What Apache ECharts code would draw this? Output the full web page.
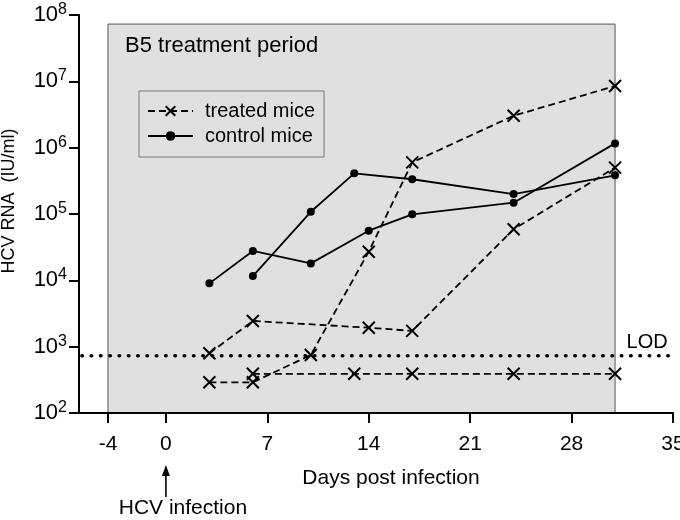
<!DOCTYPE html>
<html><head><meta charset="utf-8">
<script src="https://cdn.jsdelivr.net/npm/echarts@6/dist/echarts.min.js"></script>
<style>html,body{margin:0;padding:0;background:#fff}#c{width:680px;height:520px}</style>
</head><body><div id="c"></div>
<script>
// ---- data ----
const xTicks = [-4, 0, 7, 14, 21, 28, 35];
const treatedA_days = [3, 6, 14, 17, 24, 31];
const treatedA_vals = [795, 2440, 1930, 1730, 59000, 500000];
const treatedB_days = [3, 6, 10, 14, 17, 24, 31];
const treatedB_vals = [290, 290, 748, 27000, 600000, 3030000, 8500000];
const treatedC_days = [6, 13, 17, 24, 31];
const treatedC_vals = [390, 390, 390, 390, 390];
const controlA_days = [3, 6, 10, 14, 17, 24, 31];
const controlA_vals = [9000, 27700, 18000, 56000, 99000, 148000, 1160000];
const controlB_days = [6, 10, 13, 17, 24, 31];
const controlB_vals = [11600, 108000, 410000, 334000, 200000, 383000];
const lodValue = 730;
const lodDays = [-5.8, 34.8];
const treatmentDays = [-4, 31];
const treatmentTop = 7.3e7;
const infectionDay = 0;

const FONT = "'Liberation Sans', Arial, Helvetica, sans-serif";
const pairs = (d, v) => d.map((x, i) => [x, v[i]]);
const crossPath = 'path://M0,0L10,10M10,0L0,10';

const treatedStyle = {
  type: 'line', name: 'treated mice',
  symbol: crossPath, symbolSize: 12,
  itemStyle: { color: 'none', borderColor: '#000', borderWidth: 2 },
  lineStyle: { color: '#000', width: 1.8, type: [7, 4] },
  emphasis: { disabled: true }, z: 4
};
const controlStyle = {
  type: 'line', name: 'control mice',
  symbol: 'circle', symbolSize: 8,
  itemStyle: { color: '#000' },
  lineStyle: { color: '#000', width: 1.8, type: 'solid' },
  emphasis: { disabled: true }, z: 4
};

const lodData = [
  [lodDays[0], lodValue],
  {
    value: [lodDays[1], lodValue],
    label: { show: true, position: 'top', distance: 3, formatter: 'LOD', fontFamily: FONT, fontSize: 20, color: '#000', offset: [-23, 0] }
  }
];

const chart = echarts.init(document.getElementById('c'), null, { renderer: 'canvas' });
chart.setOption({
  animation: false,
  backgroundColor: '#fff',
  textStyle: { fontFamily: FONT, color: '#000' },
  title: {
    text: 'B5 treatment period', left: 125, top: 35, padding: 0,
    textStyle: { fontFamily: FONT, fontSize: 22, fontWeight: 'normal', color: '#000' }
  },
  grid: { left: 79, right: 7, top: 15, bottom: 107, containLabel: false, outerBoundsMode: 'none' },
  legend: {
    data: ['treated mice', 'control mice'],
    orient: 'vertical', left: 139, top: 91,
    padding: [10, 9, 11, 8], itemGap: 5,
    itemWidth: 45, itemHeight: 12,
    backgroundColor: '#e0e0e0', borderColor: '#777', borderWidth: 1,
    textStyle: { fontFamily: FONT, fontSize: 20, color: '#000', padding: [0, 0, 0, 7] },
    selectedMode: false
  },
  xAxis: {
    type: 'value', min: -6, max: 35, z: 10,
    name: 'Days post infection', nameLocation: 'middle', nameGap: 55,
    nameTextStyle: { fontFamily: FONT, fontSize: 21, color: '#000', padding: [0, 0, 0, 30] },
    axisLine: { onZero: false, lineStyle: { color: '#000', width: 2 } },
    axisTick: { customValues: xTicks, length: 10, lineStyle: { color: '#000', width: 2 } },
    axisLabel: { customValues: xTicks, fontSize: 21, color: '#000', margin: 21, fontFamily: FONT },
    splitLine: { show: false }
  },
  yAxis: {
    type: 'log', logBase: 10, min: 100, max: 1e8, splitNumber: 6, z: 10,
    name: 'HCV RNA  (IU/ml)', nameLocation: 'middle', nameGap: 61,
    nameTextStyle: { fontFamily: FONT, fontSize: 18, color: '#000', padding: [0, 0, 0, 26] },
    axisLine: { onZero: false, lineStyle: { color: '#000', width: 2 } },
    axisTick: { length: 10, lineStyle: { color: '#000', width: 2 } },
    axisLabel: {
      margin: 12, color: '#000',
      formatter: v => '{b|10}{s|' + Math.round(Math.log10(v)) + '}',
      rich: {
        b: { fontFamily: FONT, fontSize: 22, color: '#000' },
        s: { fontFamily: FONT, fontSize: 16, color: '#000', padding: [0, 0, 11, 0] }
      }
    },
    splitLine: { show: false }
  },
  series: [
    {
      type: 'line', name: 'LOD', silent: true, z: 3,
      data: lodData,
      symbol: 'circle', symbolSize: 1, showSymbol: true,
      itemStyle: { color: 'rgba(0,0,0,0)' },
      lineStyle: { color: '#000', width: 3.5, type: [0.5, 8.8], cap: 'round' },
      markArea: {
        silent: true,
        itemStyle: { color: '#e0e0e0', borderColor: '#555', borderWidth: 1 },
        data: [[{ xAxis: treatmentDays[0], yAxis: 100 }, { xAxis: treatmentDays[1], yAxis: treatmentTop }]]
      }
    },
    Object.assign({}, treatedStyle, { data: pairs(treatedA_days, treatedA_vals) }),
    Object.assign({}, treatedStyle, { data: pairs(treatedB_days, treatedB_vals) }),
    Object.assign({}, treatedStyle, { data: pairs(treatedC_days, treatedC_vals) }),
    Object.assign({}, controlStyle, { data: pairs(controlA_days, controlA_vals) }),
    Object.assign({}, controlStyle, { data: pairs(controlB_days, controlB_vals) })
  ]
});

const p0 = chart.convertToPixel({ xAxisIndex: 0, yAxisIndex: 0 }, [infectionDay, 100]);
const ax = p0[0], ay = p0[1];
chart.setOption({
  graphic: [
    { type: 'line', shape: { x1: ax, y1: ay + 84, x2: ax, y2: ay + 58 }, style: { stroke: '#000', lineWidth: 1.6 } },
    { type: 'polygon', shape: { points: [[ax, ay + 52], [ax - 4, ay + 63], [ax + 4, ay + 63]] }, style: { fill: '#000' } },
    { type: 'text', x: ax + 17, y: ay + 95, style: { text: 'HCV infection', fontFamily: FONT, fontSize: 21, fill: '#000', align: 'center', verticalAlign: 'middle' } }
  ]
});
</script>
</body></html>
